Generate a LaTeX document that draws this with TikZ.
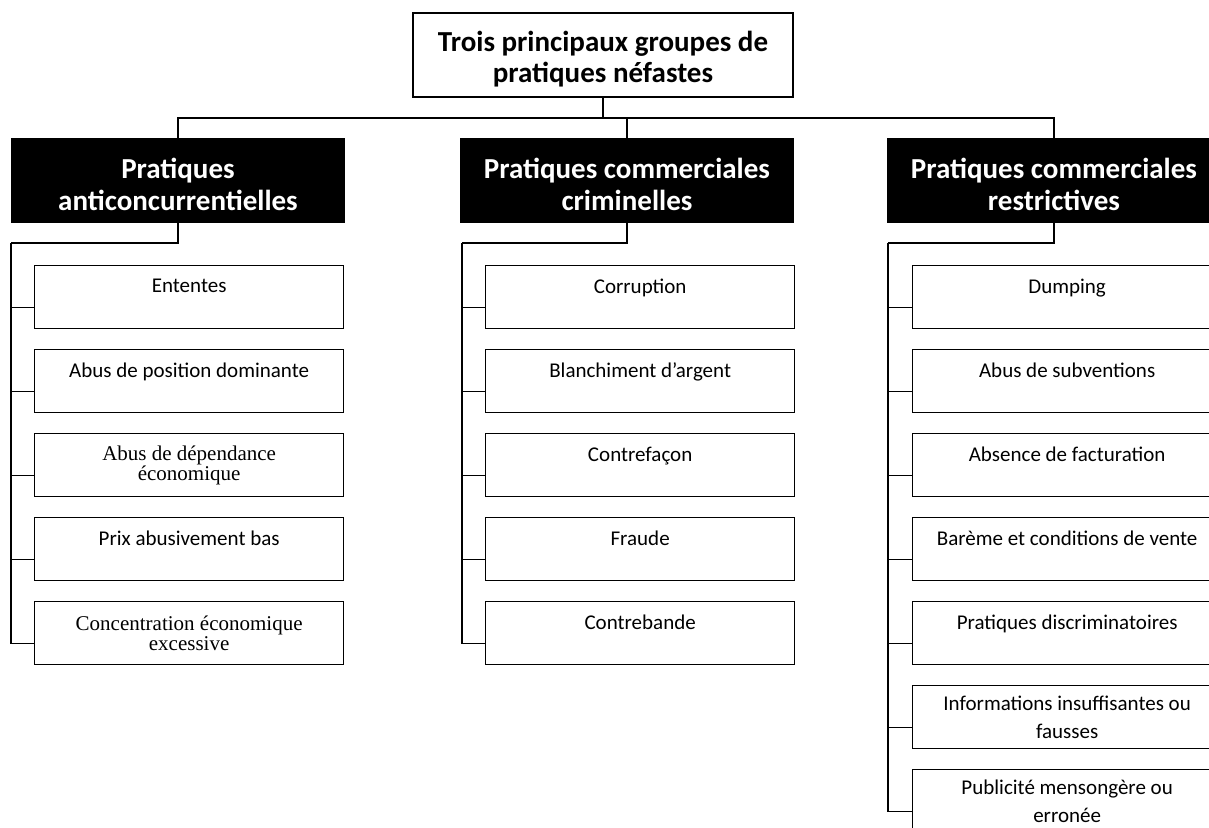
\documentclass[tikz,border=0pt]{standalone}
\usepackage{fontspec}
\setmainfont{Carlito}
\newfontfamily\serifalt{Liberation Serif}
\newcommand{\hstrut}{\rule{0pt}{29pt}}
\begin{document}
\begin{tikzpicture}[x=1pt,y=-1pt,
  topbox/.style={draw,line width=1.5pt,minimum width=380pt,minimum height=84pt,inner sep=0pt,align=center,font=\fontsize{29}{31}\selectfont\bfseries},
  headbox/.style={fill=black,text=white,minimum width=334pt,minimum height=85pt,inner sep=0pt,align=center,font=\fontsize{29}{32}\selectfont\bfseries},
  childbox/.style={draw,line width=1.3pt,minimum width=309pt,minimum height=63pt,inner sep=0pt,align=center,font=\fontsize{21}{22}\selectfont},
  twobox/.style={childbox,font=\fontsize{21}{27.5}\selectfont},
  sbox/.style={childbox,font=\serifalt\fontsize{21}{20}\selectfont},
  conn/.style={line width=1.3pt}]
\useasboundingbox (0,0) rectangle (1209,827);
\clip (0,0) rectangle (1209,827);
% top
\node[topbox] (top) at (603,55) {\hstrut Trois principaux groupes de\\pratiques néfastes};
% headers
\node[headbox] (h1) at (178,180.5) {\hstrut Pratiques\\anticoncurrentielles};
\node[headbox] (h2) at (627,180.5) {\hstrut Pratiques commerciales\\criminelles};
\node[headbox] (h3) at (1054,180.5) {\hstrut Pratiques commerciales\\restrictives};
\coordinate (bus) at (603,118);
\draw[conn] (top.south) -- (bus);
\draw[conn] (bus) -| (h1.north);
\draw[conn] (bus) -| (h2.north);
\draw[conn] (bus) -| (h3.north);
% left column
\node[childbox,anchor=north west] (a1) at (34,265) {Ententes\\~};
\node[childbox,anchor=north west] (a2) at (34,349) {Abus de position dominante\\~};
\node[sbox,anchor=north west] (a3) at (34,433) {Abus de dépendance\\économique};
\node[childbox,anchor=north west] (a4) at (34,517) {Prix abusivement bas\\~};
\node[sbox,anchor=north west] (a5) at (34,601) {Concentration économique\\excessive};
% middle column
\node[childbox,anchor=north west] (b1) at (485,265) {Corruption\\~};
\node[childbox,anchor=north west] (b2) at (485,349) {Blanchiment d’argent\\~};
\node[childbox,anchor=north west] (b3) at (485,433) {Contrefaçon\\~};
\node[childbox,anchor=north west] (b4) at (485,517) {Fraude\\~};
\node[childbox,anchor=north west] (b5) at (485,601) {Contrebande\\~};
% right column
\node[childbox,anchor=north west] (c1) at (912,265) {Dumping\\~};
\node[childbox,anchor=north west] (c2) at (912,349) {Abus de subventions\\~};
\node[childbox,anchor=north west] (c3) at (912,433) {Absence de facturation\\~};
\node[childbox,anchor=north west] (c4) at (912,517) {Barème et conditions de vente\\~};
\node[childbox,anchor=north west] (c5) at (912,601) {Pratiques discriminatoires\\~};
\node[twobox,anchor=north west] (c6) at (912,685) {Informations insuffisantes ou\\fausses};
\node[twobox,anchor=north west] (c7) at (912,769) {Publicité mensongère ou\\erronée};
% trunks
\coordinate (ta) at (11,243);
\coordinate (tb) at (462,243);
\coordinate (tc) at (888,243);
\draw[conn] (h1.south) |- (ta);
\draw[conn] (h2.south) |- (tb);
\draw[conn] (h3.south) |- (tc);
\foreach \n in {1,...,5}{
  \draw[conn] (ta) |- ([yshift=-10.5pt]a\n.west);
  \draw[conn] (tb) |- ([yshift=-10.5pt]b\n.west);
}
\foreach \n in {1,...,7}{
  \draw[conn] (tc) |- ([yshift=-10.5pt]c\n.west);
}
\end{tikzpicture}
\end{document}
